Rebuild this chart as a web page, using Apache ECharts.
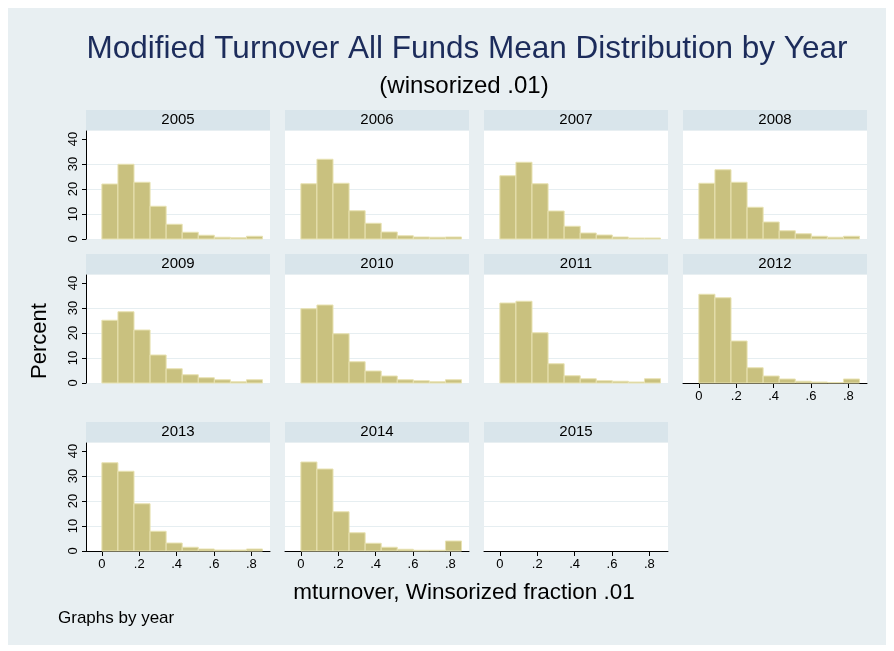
<!DOCTYPE html>
<html><head><meta charset="utf-8">
<script src="https://cdn.jsdelivr.net/npm/echarts@6/dist/echarts.min.js"></script>
<style>
html,body{margin:0;padding:0;background:#fff;}
#bg{position:absolute;left:8px;top:8px;width:878px;height:637px;background:#e8eff2;}
#c{position:absolute;left:0;top:0;width:894px;height:651px;}
</style>
</head><body><div id="bg"></div><div id="c"></div>
<script>
const years = ['2005','2006','2007','2008','2009','2010','2011','2012','2013','2014','2015'];
const binEdges = [0, 0.086, 0.172, 0.258, 0.344, 0.43, 0.516, 0.602, 0.688, 0.774, 0.86];
const pct2005 = [22.0, 29.9, 22.7, 13.1, 5.9, 2.7, 1.5, 0.7, 0.5, 1.1];
const pct2006 = [22.1, 31.9, 22.3, 11.3, 6.3, 2.8, 1.3, 0.8, 0.7, 0.8];
const pct2007 = [25.3, 30.7, 22.1, 11.2, 5.1, 2.4, 1.6, 0.8, 0.4, 0.4];
const pct2008 = [22.3, 27.7, 22.7, 12.7, 6.8, 3.3, 2.1, 1.1, 0.7, 1.1];
const pct2009 = [25.1, 28.5, 21.2, 11.2, 5.7, 3.3, 2.1, 1.3, 0.5, 1.3];
const pct2010 = [29.7, 31.2, 19.7, 8.5, 4.8, 2.8, 1.3, 0.9, 0.5, 1.3];
const pct2011 = [32.0, 32.7, 20.1, 7.7, 2.9, 1.7, 0.9, 0.7, 0.4, 1.7];
const pct2012 = [35.5, 34.1, 16.8, 6.1, 2.8, 1.6, 0.7, 0.4, 0.2, 1.6];
const pct2013 = [35.3, 31.9, 18.9, 7.9, 3.2, 1.5, 0.8, 0.4, 0.4, 0.8];
const pct2014 = [35.6, 32.8, 15.7, 7.3, 3.1, 1.5, 0.7, 0.3, 0.3, 4.0];
const pct2015 = [];
const percents = [pct2005, pct2006, pct2007, pct2008, pct2009, pct2010, pct2011, pct2012, pct2013, pct2014, pct2015];
const xTicks = [0, 0.2, 0.4, 0.6, 0.8];
const xTickLabels = ['0', '.2', '.4', '.6', '.8'];
const yTicks = [0, 10, 20, 30, 40];
const mainTitle = 'Modified Turnover All Funds Mean Distribution by Year';
const subTitle = '(winsorized .01)';
const yTitle = 'Percent';
const xTitle = 'mturnover, Winsorized fraction .01';
const note = 'Graphs by year';
const xLabelPanels = ['2012', '2013', '2014', '2015'];

const colLeft = [86, 285, 484, 683];
const rowTop = [131, 275, 443];
const pw = 184, ph = 108;
const FONT = 'Liberation Sans, Arial, Helvetica, sans-serif';

const grids = [], xAxes = [], yAxes = [], series = [], graphics = [];
years.forEach((yr, i) => {
  const r = Math.floor(i / 4), c = i % 4;
  const left = colLeft[c], top = rowTop[r];
  grids.push({left: left, top: top, width: pw, height: ph, show: true, backgroundColor: '#ffffff', borderWidth: 0, containLabel: false});
  const showX = xLabelPanels.indexOf(yr) >= 0;
  xAxes.push({
    gridIndex: i, type: 'value', min: -0.085, max: 0.9,
    axisLine: {show: showX, onZero: false, lineStyle: {color: '#000', width: 1}},
    axisTick: {show: showX, customValues: xTicks, length: 5, lineStyle: {color: '#000'}},
    axisLabel: {show: showX, customValues: xTicks, margin: 7, fontSize: 13, color: '#000', fontFamily: FONT,
      formatter: v => { const k = xTicks.findIndex(t => Math.abs(t - v) < 1e-6); return k >= 0 ? xTickLabels[k] : ''; }},
    splitLine: {show: false}
  });
  const showY = c === 0;
  yAxes.push({
    gridIndex: i, type: 'value', min: 0, max: 43.2, interval: 10,
    axisLine: {show: showY, onZero: false, lineStyle: {color: '#000', width: 1}},
    axisTick: {show: showY, customValues: yTicks, length: 4, lineStyle: {color: '#000'}},
    axisLabel: {show: showY, customValues: yTicks, rotate: 90, margin: 6, fontSize: 13, color: '#000', fontFamily: FONT,
      formatter: v => String(v)},
    splitLine: {show: true, showMaxLine: false, lineStyle: {color: '#e6eef1', width: 1}}
  });
  const vals = percents[i];
  series.push({
    type: 'custom', xAxisIndex: i, yAxisIndex: i,
    data: vals.map((v, k) => [binEdges[k], binEdges[k + 1], v]),
    encode: {x: [0, 1], y: 2},
    renderItem: (params, api) => {
      const p0 = api.coord([api.value(0), api.value(2)]);
      const p1 = api.coord([api.value(1), 0]);
      return {type: 'rect', shape: {x: p0[0], y: p0[1], width: p1[0] - p0[0], height: p1[1] - p0[1]},
        style: {fill: '#c9c17f', stroke: '#e8e2b2', lineWidth: 1}};
    },
    silent: true, animation: false
  });
  graphics.push({type: 'rect', left: left, top: top - 21, shape: {x: 0, y: 0, width: pw, height: 20}, style: {fill: '#d9e5eb'}});
  graphics.push({type: 'text', x: left + pw / 2, y: top - 11, style: {text: yr, fontSize: 15, fontFamily: FONT, fill: '#000', align: 'center', verticalAlign: 'middle'}});
});

graphics.push({type: 'text', x: 467, y: 49, style: {text: mainTitle, fontSize: 31.5, fontFamily: FONT, fill: '#1c2c5b', align: 'center', verticalAlign: 'middle'}});
graphics.push({type: 'text', x: 464, y: 86, style: {text: subTitle, fontSize: 24, fontFamily: FONT, fill: '#000', align: 'center', verticalAlign: 'middle'}});
graphics.push({type: 'text', x: 40, y: 341, rotation: Math.PI / 2, style: {text: yTitle, fontSize: 22, fontFamily: FONT, fill: '#000', align: 'center', verticalAlign: 'middle'}});
graphics.push({type: 'text', x: 464, y: 593, style: {text: xTitle, fontSize: 22.5, fontFamily: FONT, fill: '#000', align: 'center', verticalAlign: 'middle'}});
graphics.push({type: 'text', x: 58, y: 618, style: {text: note, fontSize: 17, fontFamily: FONT, fill: '#000', align: 'left', verticalAlign: 'middle'}});

const chart = echarts.init(document.getElementById('c'), null, {renderer: 'canvas'});
chart.setOption({
  animation: false,
  backgroundColor: 'transparent',
  grid: grids, xAxis: xAxes, yAxis: yAxes, series: series,
  graphic: {elements: graphics}
});
</script></body></html>
